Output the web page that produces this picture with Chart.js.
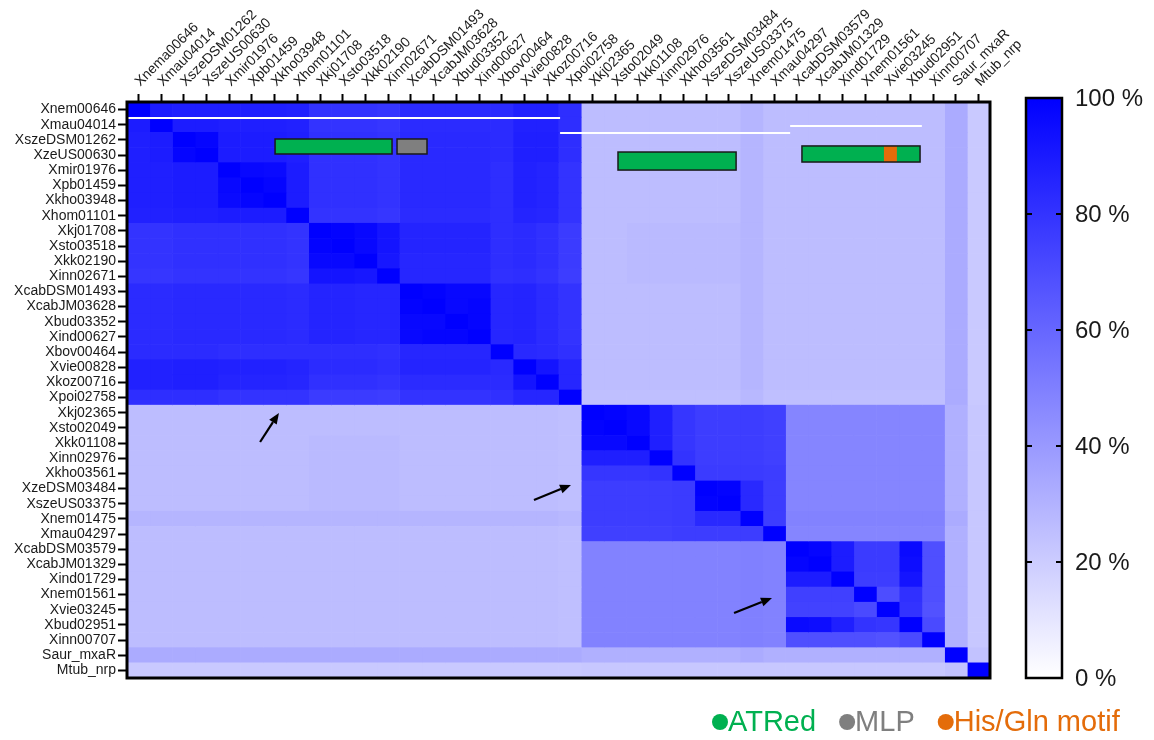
<!DOCTYPE html>
<html>
<head>
<meta charset="utf-8">
<script src="https://cdn.jsdelivr.net/npm/chart.js@4.4.0/dist/chart.umd.min.js"></script>
<style>
  html, body { margin: 0; padding: 0; background: #fff; }
</style>
</head>
<body>
<canvas id="heatmap" width="1154" height="740"></canvas>
<script>
const rowLabels = ['Xnem00646', 'Xmau04014', 'XszeDSM01262', 'XzeUS00630', 'Xmir01976', 'Xpb01459',
  'Xkho03948', 'Xhom01101', 'Xkj01708', 'Xsto03518', 'Xkk02190', 'Xinn02671', 'XcabDSM01493',
  'XcabJM03628', 'Xbud03352', 'Xind00627', 'Xbov00464', 'Xvie00828', 'Xkoz00716', 'Xpoi02758',
  'Xkj02365', 'Xsto02049', 'Xkk01108', 'Xinn02976', 'Xkho03561', 'XzeDSM03484', 'XszeUS03375',
  'Xnem01475', 'Xmau04297', 'XcabDSM03579', 'XcabJM01329', 'Xind01729', 'Xnem01561', 'Xvie03245',
  'Xbud02951', 'Xinn00707', 'Saur_mxaR', 'Mtub_nrp'];

const colLabels = ['Xnema00646', 'Xmau04014', 'XszeDSM01262', 'XszeUS00630', 'Xmir01976', 'Xpb01459',
  'Xkho03948', 'Xhom01101', 'Xkj01708', 'Xsto03518', 'Xkk02190', 'Xinn02671', 'XcabDSM01493',
  'XcabJM03628', 'Xbud03352', 'Xind00627', 'Xbov00464', 'Xvie00828', 'Xkoz00716', 'Xpoi02758',
  'Xkj02365', 'Xsto02049', 'Xkk01108', 'Xinn02976', 'Xkho03561', 'XszeDSM03484', 'XszeUS03375',
  'Xnem01475', 'Xmau04297', 'XcabDSM03579', 'XcabJM01329', 'Xind01729', 'Xnem01561', 'Xvie03245',
  'Xbud02951', 'Xinn00707', 'Saur_mxaR', 'Mtub_nrp'];

// % identity, row i = rowLabels[i], column j = colLabels[j]
const identity = [
  [100,89,88,88,88,88,88,87,80,80,80,79,83,83,83,83,83,87,87,82, 26,26,26,26,26,26,26,29,26, 26,26,26,26,26,26,26, 33,21],
  [89,100,89,89,88,88,88,87,80,80,80,79,83,83,83,83,83,87,87,82, 26,26,26,26,26,26,26,29,26, 26,26,26,26,26,26,26, 33,21],
  [88,89,100,98,89,89,89,88,81,81,81,80,84,84,84,84,83,88,88,82, 26,26,26,26,26,26,26,29,26, 26,26,26,26,26,26,26, 33,21],
  [88,89,98,100,89,89,89,88,81,81,81,80,84,84,84,84,83,88,88,82, 26,26,26,26,26,26,26,29,26, 26,26,26,26,26,26,26, 33,21],
  [88,88,89,89,100,97,96,89,81,81,81,80,84,84,84,84,82,87,86,80, 26,26,26,26,26,26,26,29,26, 26,26,26,26,26,26,26, 33,21],
  [88,88,89,89,97,100,98,89,81,81,81,80,84,84,84,84,82,87,86,80, 26,26,26,26,26,26,26,29,26, 26,26,26,26,26,26,26, 33,21],
  [88,88,89,89,96,98,100,89,81,81,81,80,84,84,84,84,82,87,86,80, 26,26,26,26,26,26,26,29,26, 26,26,26,26,26,26,26, 33,21],
  [87,87,88,88,89,89,89,100,80,80,80,79,83,83,83,83,82,86,85,80, 26,26,26,26,26,26,26,29,26, 26,26,26,26,26,26,26, 33,21],
  [80,80,81,81,81,81,81,80,100,99,97,92,86,86,86,86,82,83,81,77, 26,26,27,27,27,27,27,29,26, 26,26,26,26,26,26,26, 33,21],
  [80,80,81,81,81,81,81,80,99,100,97,92,86,86,86,86,82,83,81,77, 26,26,27,27,27,27,27,29,26, 26,26,26,26,26,26,26, 33,21],
  [80,80,81,81,81,81,81,80,97,97,100,91,85,85,85,85,82,83,81,77, 26,26,27,27,27,27,27,29,26, 26,26,26,26,26,26,26, 33,21],
  [79,79,80,80,80,80,80,79,92,92,91,100,85,85,85,85,81,82,80,76, 26,26,27,27,27,27,27,29,26, 26,26,26,26,26,26,26, 33,21],
  [83,83,84,84,84,84,84,83,86,86,85,85,100,99,97,97,85,86,83,80, 26,26,26,26,26,26,26,29,26, 26,26,26,26,26,26,26, 33,21],
  [83,83,84,84,84,84,84,83,86,86,85,85,99,100,97,98,85,86,83,80, 26,26,26,26,26,26,26,29,26, 26,26,26,26,26,26,26, 33,21],
  [83,83,84,84,84,84,84,83,86,86,85,85,97,97,100,98,85,86,83,80, 26,26,26,26,26,26,26,29,26, 26,26,26,26,26,26,26, 33,21],
  [83,83,84,84,84,84,84,83,86,86,85,85,97,98,98,100,85,86,83,80, 26,26,26,26,26,26,26,29,26, 26,26,26,26,26,26,26, 33,21],
  [83,83,83,83,82,82,82,82,82,82,82,81,85,85,85,85,100,84,83,81, 26,26,26,26,26,26,26,29,26, 26,26,26,26,26,26,26, 33,21],
  [87,87,88,88,87,87,87,86,83,83,83,82,86,86,86,86,84,100,92,85, 26,26,26,26,26,26,26,29,26, 26,26,26,26,26,26,26, 33,21],
  [87,87,88,88,86,86,86,85,81,81,81,80,83,83,83,83,83,92,100,85, 26,26,26,26,26,26,26,29,26, 26,26,26,26,26,26,26, 33,21],
  [82,82,82,82,80,80,80,80,77,77,77,76,80,80,80,80,81,85,85,100, 25,25,25,25,25,25,25,28,25, 25,25,25,25,25,25,25, 33,21],
  [26,26,26,26,26,26,26,26,26,26,26,26,26,26,26,26,26,26,26,25, 100,99,97,88,79,76,76,76,75, 48,48,48,48,48,48,48, 31,22],
  [26,26,26,26,26,26,26,26,26,26,26,26,26,26,26,26,26,26,26,25, 99,100,97,88,79,76,76,76,75, 48,48,48,48,48,48,48, 31,22],
  [26,26,26,26,26,26,26,26,27,27,27,27,26,26,26,26,26,26,26,25, 97,97,100,88,79,76,76,76,75, 48,48,48,48,48,48,48, 31,22],
  [26,26,26,26,26,26,26,26,27,27,27,27,26,26,26,26,26,26,26,25, 88,88,88,100,80,76,76,76,75, 48,48,48,48,48,48,48, 31,22],
  [26,26,26,26,26,26,26,26,27,27,27,27,26,26,26,26,26,26,26,25, 79,79,79,80,100,77,77,77,76, 48,48,48,48,48,48,48, 31,22],
  [26,26,26,26,26,26,26,26,27,27,27,27,26,26,26,26,26,26,26,25, 76,76,76,76,77,100,99,84,76, 48,48,48,48,48,48,48, 31,22],
  [26,26,26,26,26,26,26,26,27,27,27,27,26,26,26,26,26,26,26,25, 76,76,76,76,77,99,100,84,76, 48,48,48,48,48,48,48, 31,22],
  [29,29,29,29,29,29,29,29,29,29,29,29,29,29,29,29,29,29,29,28, 76,76,76,76,77,84,84,100,76, 49,49,49,49,49,49,49, 33,22],
  [26,26,26,26,26,26,26,26,26,26,26,26,26,26,26,26,26,26,26,25, 75,75,75,75,76,76,76,76,100, 48,48,48,48,48,48,48, 31,22],
  [26,26,26,26,26,26,26,26,26,26,26,26,26,26,26,26,26,26,26,25, 49,49,49,49,49,49,49,50,49, 100,98,89,77,77,96,69, 31,22],
  [26,26,26,26,26,26,26,26,26,26,26,26,26,26,26,26,26,26,26,25, 49,49,49,49,49,49,49,50,49, 98,100,89,77,77,95,69, 31,22],
  [26,26,26,26,26,26,26,26,26,26,26,26,26,26,26,26,26,26,26,25, 49,49,49,49,49,49,49,50,49, 89,89,100,76,76,92,69, 31,22],
  [26,26,26,26,26,26,26,26,26,26,26,26,26,26,26,26,26,26,26,25, 49,49,49,49,49,49,49,50,49, 75,75,75,100,70,81,69, 31,22],
  [26,26,26,26,26,26,26,26,26,26,26,26,26,26,26,26,26,26,26,25, 49,49,49,49,49,49,49,50,49, 74,74,74,71,100,80,68, 31,22],
  [26,26,26,26,26,26,26,26,26,26,26,26,26,26,26,26,26,26,26,25, 49,49,49,49,49,49,49,50,49, 96,95,88,80,79,100,71, 31,22],
  [26,26,26,26,26,26,26,26,26,26,26,26,26,26,26,26,26,26,26,25, 49,49,49,49,49,49,49,50,49, 69,69,69,69,68,71,100, 31,22],
  [33,33,33,33,33,33,33,33,33,33,33,33,33,33,33,33,33,33,33,33, 31,31,31,31,31,31,31,33,31, 31,31,31,31,31,31,31, 100,24],
  [21,21,21,21,21,21,21,21,21,21,21,21,21,21,21,21,21,21,21,21, 22,22,22,22,22,22,22,22,22, 22,22,22,22,22,22,22, 24,100]
];

const colorbarTicks = [0, 20, 40, 60, 80, 100];
const domainNames = ['ATRed', 'MLP', 'His/Gln motif'];
const domainColors = ['#00b050', '#7f7f7f', '#e46c0a'];

const FONT = '"Liberation Sans", Arial, sans-serif';

function heat(v) {
  const c = Math.round(255 * (1 - v / 100));
  return `rgb(${c},${c},255)`;
}

// one floating bar per cell: dataset = column, category = row
const datasets = colLabels.map((name, j) => ({
  label: name,
  data: rowLabels.map(() => [j, j + 1]),
  backgroundColor: rowLabels.map((_, i) => heat(identity[i][j])),
  borderWidth: 0,
  barPercentage: 1,
  categoryPercentage: 1,
  grouped: false
}));

// annotations, in cell units (x = column, y = row from top)
const whiteLines = [[0, 19.07, 1.06], [19.07, 29.2, 2.04], [29.2, 35.0, 1.58]];
const domainBoxes = [
  { x0: 6.52, x1: 11.67, y0: 2.44, y1: 3.43, kind: 0 },
  { x0: 11.89, x1: 13.21, y0: 2.44, y1: 3.43, kind: 1 },
  { x0: 21.62, x1: 26.82, y0: 3.30, y1: 4.49, kind: 0 },
  { x0: 29.72, x1: 34.92, y0: 2.90, y1: 3.96, kind: 0, motif: [33.33, 33.9] }
];
const arrows = [[5.86, 22.43, 6.69, 20.51], [17.92, 26.25, 19.55, 25.26], [26.73, 33.71, 28.40, 32.72]];

const overlay = {
  id: 'overlay',
  beforeDraw(chart) {
    const ctx = chart.ctx;
    ctx.save();
    ctx.fillStyle = '#fff';
    ctx.fillRect(0, 0, chart.width, chart.height);
    ctx.restore();
  },
  afterDatasetsDraw(chart) {
    const { ctx, chartArea: a, scales } = chart;
    const px = v => scales.x.getPixelForValue(v);
    const py = v => a.top + v * a.height / rowLabels.length;
    ctx.save();

    ctx.strokeStyle = '#fff';
    ctx.lineWidth = 2;
    whiteLines.forEach(([x0, x1, y]) => {
      ctx.beginPath();
      ctx.moveTo(px(x0), py(y));
      ctx.lineTo(px(x1), py(y));
      ctx.stroke();
    });

    domainBoxes.forEach(b => {
      const x0 = px(b.x0), x1 = px(b.x1), y0 = py(b.y0), y1 = py(b.y1);
      ctx.fillStyle = domainColors[b.kind];
      ctx.fillRect(x0, y0, x1 - x0, y1 - y0);
      if (b.motif) {
        ctx.fillStyle = domainColors[2];
        ctx.fillRect(px(b.motif[0]), y0, px(b.motif[1]) - px(b.motif[0]), y1 - y0);
      }
      ctx.strokeStyle = '#1a1a1a';
      ctx.lineWidth = 1.5;
      ctx.strokeRect(x0, y0, x1 - x0, y1 - y0);
    });

    ctx.strokeStyle = '#000';
    ctx.fillStyle = '#000';
    arrows.forEach(([xa, ya, xb, yb]) => {
      const x0 = px(xa), y0 = py(ya), x1 = px(xb), y1 = py(yb);
      const ang = Math.atan2(y1 - y0, x1 - x0);
      const hl = 11, hw = 4.5;
      const bx = x1 - hl * Math.cos(ang), by = y1 - hl * Math.sin(ang);
      ctx.lineWidth = 2.2;
      ctx.beginPath();
      ctx.moveTo(x0, y0);
      ctx.lineTo(bx, by);
      ctx.stroke();
      ctx.beginPath();
      ctx.moveTo(x1, y1);
      ctx.lineTo(bx - hw * Math.sin(ang), by + hw * Math.cos(ang));
      ctx.lineTo(bx + hw * Math.sin(ang), by - hw * Math.cos(ang));
      ctx.closePath();
      ctx.fill();
    });

    ctx.strokeStyle = '#000';
    ctx.lineWidth = 3;
    ctx.strokeRect(a.left, a.top, a.right - a.left, a.bottom - a.top);
    ctx.restore();
  },
  afterDraw(chart) {
    const { ctx, chartArea: a } = chart;
    ctx.save();

    // colour bar
    const cx0 = a.right + 36, cx1 = cx0 + 36;
    const ctop = a.top - 4, cbot = a.bottom;
    const grad = ctx.createLinearGradient(0, cbot, 0, ctop);
    grad.addColorStop(0, heat(0));
    grad.addColorStop(1, heat(100));
    ctx.fillStyle = grad;
    ctx.fillRect(cx0, ctop, cx1 - cx0, cbot - ctop);
    ctx.strokeStyle = '#000';
    ctx.lineWidth = 2.5;
    ctx.strokeRect(cx0, ctop, cx1 - cx0, cbot - ctop);
    ctx.font = '24px ' + FONT;
    ctx.fillStyle = '#1a1a1a';
    ctx.textBaseline = 'middle';
    ctx.textAlign = 'left';
    colorbarTicks.forEach(t => {
      const y = cbot - (t / 100) * (cbot - ctop);
      if (t > 0 && t < 100) {
        ctx.lineWidth = 2;
        ctx.beginPath();
        ctx.moveTo(cx0, y); ctx.lineTo(cx0 + 6, y);
        ctx.moveTo(cx1 - 6, y); ctx.lineTo(cx1, y);
        ctx.stroke();
      }
      ctx.fillText(t + ' %', cx1 + 13, y + 1);
    });

    // domain legend
    ctx.font = '29px ' + FONT;
    let x = 712;
    const y = 722;
    domainNames.forEach((name, k) => {
      ctx.fillStyle = domainColors[k];
      ctx.beginPath();
      ctx.arc(x + 8, y, 8, 0, Math.PI * 2);
      ctx.fill();
      ctx.fillText(name, x + 16, y + 1);
      x += 16 + ctx.measureText(name).width + 23;
    });
    ctx.restore();
  }
};

new Chart(document.getElementById('heatmap'), {
  type: 'bar',
  data: { labels: rowLabels, datasets },
  options: {
    indexAxis: 'y',
    responsive: false,
    animation: false,
    layout: { padding: { left: 0, top: 0, right: 164, bottom: 62 } },
    plugins: { legend: { display: false }, tooltip: { enabled: false } },
    scales: {
      y: {
        type: 'category',
        offset: true,
        afterFit(s) { s.width = 127; },
        grid: { offset: false, drawOnChartArea: false, tickLength: 9, tickWidth: 2, tickColor: '#000' },
        border: { display: true, color: '#000', width: 3 },
        ticks: { autoSkip: false, color: '#1a1a1a', padding: 2, font: { family: FONT, size: 14 } }
      },
      x: {
        type: 'linear',
        position: 'top',
        min: 0,
        max: colLabels.length,
        afterFit(s) { s.height = 102; },
        afterBuildTicks(s) { s.ticks = colLabels.map((_, i) => ({ value: i + 0.5 })); },
        grid: { drawOnChartArea: false, tickLength: 8, tickWidth: 2, tickColor: '#000' },
        border: { display: true, color: '#000', width: 3 },
        ticks: {
          autoSkip: false,
          minRotation: 45,
          maxRotation: 45,
          padding: 4,
          labelOffset: 11,
          color: '#1a1a1a',
          font: { family: FONT, size: 14 },
          callback: (v, i) => colLabels[i]
        }
      }
    }
  },
  plugins: [overlay]
});
</script>
</body>
</html>
